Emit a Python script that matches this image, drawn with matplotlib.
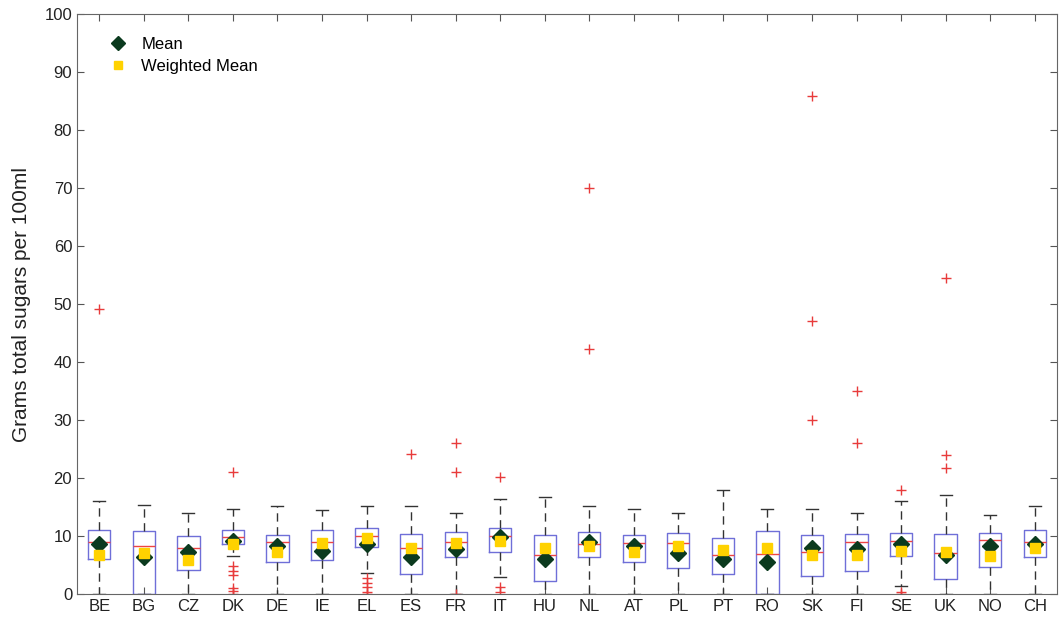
import matplotlib.pyplot as plt

plt.rcParams['font.family'] = ['Liberation Sans', 'DejaVu Sans']

countries = ['BE', 'BG', 'CZ', 'DK', 'DE', 'IE', 'EL', 'ES', 'FR', 'IT', 'HU',
             'NL', 'AT', 'PL', 'PT', 'RO', 'SK', 'FI', 'SE', 'UK', 'NO', 'CH']

q1 = [6.1, 0.0, 4.1, 8.6, 5.5, 5.8, 8.1, 3.4, 6.4, 7.2, 2.3,
      6.3, 5.5, 4.4, 3.4, 0.0, 3.1, 3.9, 6.5, 2.6, 4.7, 6.4]
medians = [9.0, 8.3, 8.0, 9.9, 9.0, 9.0, 10.0, 8.0, 9.0, 10.0, 6.8,
           8.6, 8.8, 8.8, 6.8, 6.9, 7.3, 9.0, 9.1, 7.1, 9.3, 9.0]
q3 = [11.0, 10.9, 10.0, 11.0, 10.2, 11.0, 11.4, 10.3, 10.7, 11.3, 10.1,
      10.7, 10.1, 10.6, 9.7, 10.9, 10.2, 10.3, 10.5, 10.3, 10.6, 11.0]
whisk_lo = [0.0, 0.0, 0.0, 6.5, 0.0, 0.0, 3.7, 0.0, 0.0, 3.0, 0.0,
            0.0, 0.0, 0.0, 0.0, 0.0, 0.0, 0.0, 1.3, 0.0, 0.0, 0.0]
whisk_hi = [16.1, 15.3, 13.9, 14.6, 15.1, 14.4, 15.1, 15.1, 14.0, 16.4, 16.8,
            15.1, 14.6, 14.0, 18.0, 14.6, 14.6, 14.0, 16.0, 17.0, 13.6, 15.1]
outliers = [
    [49.1],                       # BE
    [],                           # BG
    [],                           # CZ
    [21.1, 4.8, 4.0, 3.3, 1.1, 0.5, 0.0],  # DK
    [],                           # DE
    [],                           # IE
    [2.7, 1.9, 1.2, 0.3, 0.0],    # EL
    [24.1],                       # ES
    [26.0, 21.1, 0.0],            # FR
    [20.1, 1.2, 0.3],             # IT
    [],                           # HU
    [70.0, 42.2],                 # NL
    [],                           # AT
    [],                           # PL
    [],                           # PT
    [],                           # RO
    [85.9, 47.1, 30.0],           # SK
    [35.0, 26.0],                 # FI
    [18.0, 0.3, 0.0],             # SE
    [54.5, 24.0, 21.8],           # UK
    [],                           # NO
    [],                           # CH
]
mean_vals = [8.6, 6.4, 7.3, 9.2, 8.2, 7.5, 8.6, 6.4, 7.7, 9.9, 6.0,
             9.0, 8.2, 7.0, 6.1, 5.6, 7.9, 7.8, 8.6, 6.7, 8.2, 8.6]
wmean_vals = [6.7, 7.0, 5.9, 8.6, 7.3, 8.8, 9.7, 7.9, 8.8, 9.2, 7.9,
              8.3, 7.3, 8.2, 7.6, 8.0, 6.7, 6.8, 7.5, 7.3, 6.5, 8.0]

stats = []
for i, c in enumerate(countries):
    stats.append({'label': c, 'q1': q1[i], 'med': medians[i], 'q3': q3[i],
                  'whislo': whisk_lo[i], 'whishi': whisk_hi[i],
                  'fliers': outliers[i]})

fig = plt.figure(figsize=(10.61, 6.26), dpi=100)
ax = fig.add_axes([0.0726, 0.0511, 0.9236, 0.9265])

pos = list(range(1, len(countries) + 1))
ax.bxp(stats, positions=pos, widths=0.5, capwidths=0.27, showfliers=True,
       boxprops=dict(color='#6f6fd8', linewidth=1.0),
       medianprops=dict(color='#ee4444', linewidth=1.0),
       whiskerprops=dict(color='#333333', linewidth=1.0, linestyle=(0, (6, 4))),
       capprops=dict(color='#333333', linewidth=1.0),
       flierprops=dict(marker='+', markeredgecolor='#e83b3b', markersize=7,
                       markeredgewidth=1.0, linestyle='none'))

ax.plot(pos, mean_vals, linestyle='none', marker='D', markersize=8.5,
        color='#0b3a1e', label='Mean', zorder=4)
ax.plot(pos, wmean_vals, linestyle='none', marker='s', markersize=7.5,
        color='#ffd200', label='Weighted Mean', zorder=5)

ax.set_xlim(0.5, len(countries) + 0.5)
ax.set_ylim(0, 100)
ax.set_yticks(range(0, 101, 10))
ax.set_xticks(pos)
ax.set_xticklabels(countries)
ax.set_ylabel('Grams total sugars per 100ml', fontsize=15, color='#222222',
              labelpad=10)
ax.tick_params(direction='in', top=True, right=True, labelsize=12,
               colors='#555555', labelcolor='#222222', length=5)
for s in ax.spines.values():
    s.set_color('#666666')

ax.legend(loc='upper left', bbox_to_anchor=(0.011, 0.995), frameon=False,
          fontsize=12, handlelength=1.2, handletextpad=0.8,
          borderaxespad=0.8, labelspacing=0.4, markerscale=0.8)

fig.savefig('out.png', dpi=100)
